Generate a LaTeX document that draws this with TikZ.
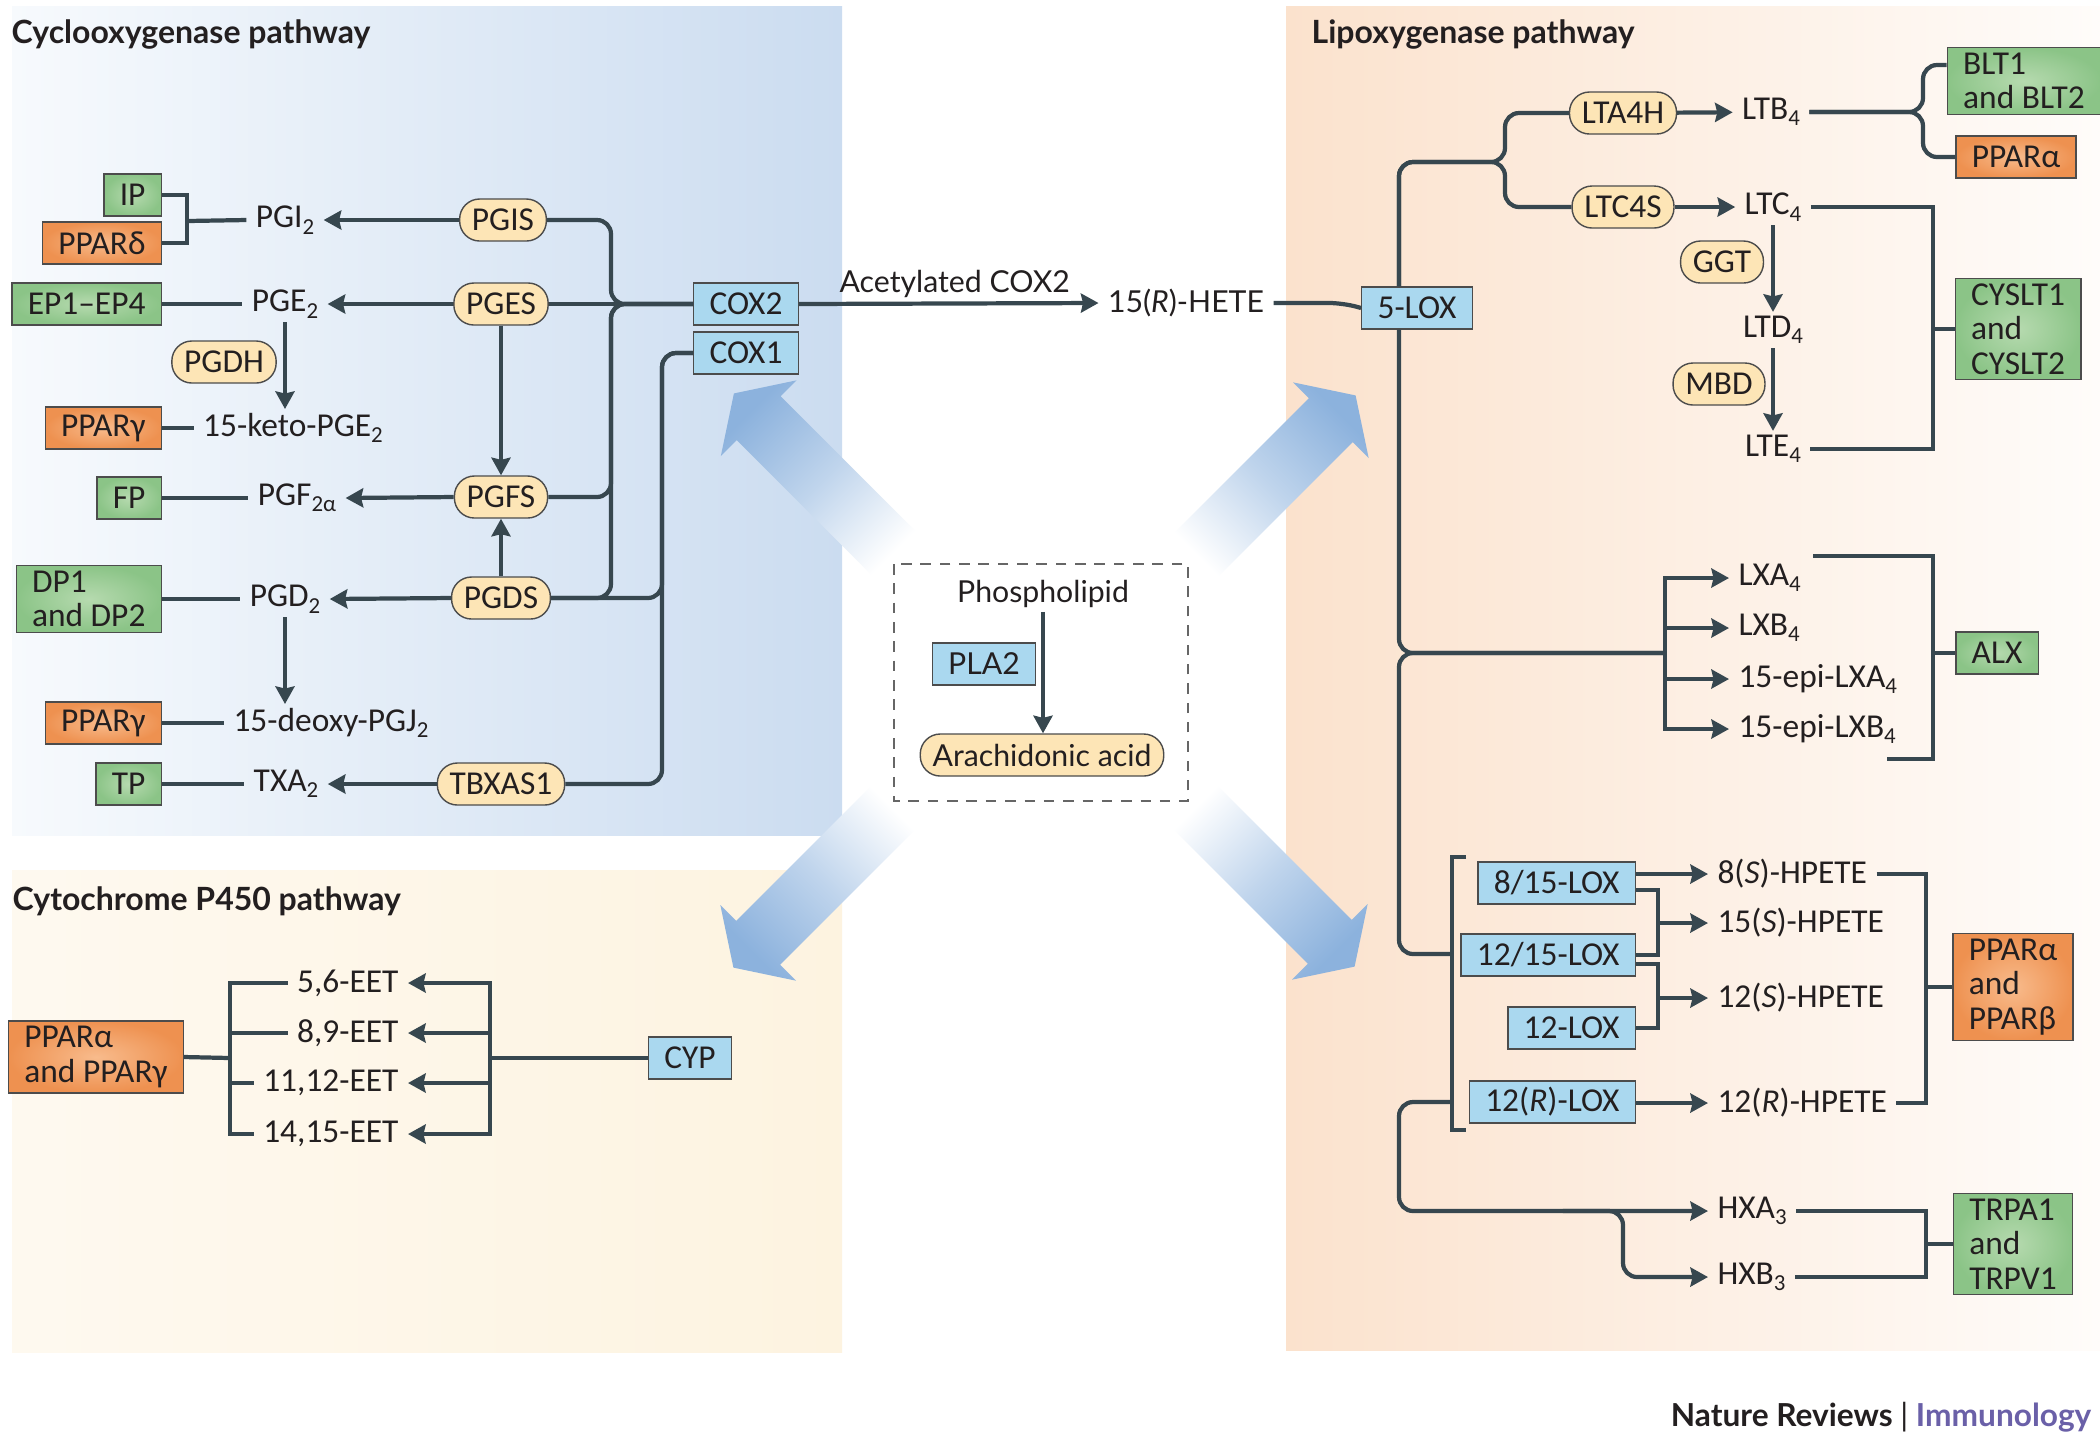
\documentclass[tikz,border=0pt]{standalone}
\usepackage{fontspec}
\setmainfont{Carlito}
\newfontfamily\midfont{Lato}
\usetikzlibrary{arrows.meta,positioning}

\definecolor{linecol}{HTML}{37474F}
\definecolor{txtcol}{HTML}{231F20}
\definecolor{grnin}{HTML}{B6DAAF}
\definecolor{grnout}{HTML}{8BC487}
\definecolor{orgin}{HTML}{F8BB8C}
\definecolor{orgout}{HTML}{EE9150}
\definecolor{bluebox}{HTML}{AAD8EF}
\definecolor{pillcol}{HTML}{FDE5B6}
\definecolor{arrblue}{HTML}{8CB2DD}
\definecolor{coxpanel}{HTML}{CBDCF0}
\definecolor{coxpanelL}{HTML}{F7FAFD}
\definecolor{cyppanel}{HTML}{FDF3E0}
\definecolor{loxpanel}{HTML}{FBE2CD}
\definecolor{immcol}{HTML}{6A60A8}

% lowered subscript as in the figure
\newcommand{\sbs}[1]{\raisebox{-0.4ex}{\fontsize{6.5}{7}\selectfont#1}}

\begin{document}
\begin{tikzpicture}[x=0.01cm, y=-0.01cm,
  font=\fontsize{9.5}{9.8}\selectfont, text=txtcol,
  box/.style={draw=black!70, line width=0.4pt, minimum height=0.42cm, inner xsep=4.5pt, inner ysep=1.5pt, align=left},
  rec/.style={box, inner color=grnin, outer color=grnout},
  ppar/.style={box, inner color=orgin, outer color=orgout},
  enz/.style={box, fill=bluebox},
  pill/.style={box, fill=pillcol, rounded corners=0.2cm, inner xsep=3.5pt},
  lip/.style={inner xsep=2.5pt, inner ysep=1pt},
  mid/.style={font=\midfont\fontsize{8.6}{10}\selectfont},
  conn/.style={draw=linecol, line width=1.2pt},
  arr/.style={conn, -{Stealth[length=5pt,width=5.4pt,inset=0.6pt]}},
  bigarr/.style={top color=arrblue, bottom color=white, middle color=arrblue!55!white},
  ttl/.style={font=\midfont\fontsize{9.1}{10}\selectfont\bfseries, anchor=base west, inner sep=0pt}
]
\useasboundingbox (0,0) rectangle (2100,1441);
\fill[white] (0,0) rectangle (2100,1441);

% Pathway panels
\shade[left color=coxpanelL, right color=coxpanel] (12,6) rectangle (842,835);
\shade[left color=cyppanel!50!white, right color=cyppanel] (12,870) rectangle (842,1352);
\shade[left color=loxpanel, right color=loxpanel!10!white] (1286,6) rectangle (2100,1350);

% Big arrows out of the arachidonic acid box
\foreach \tx/\ty/\ang/\sh in {901.5/561/135/45, 1188/563/45/-45, 901/800/225/135, 1187/799/315/225}
  \shade[bigarr, shading angle=\sh, shift={(\tx,\ty)}, rotate=\ang]
    (0,31) -- (202,31) -- (202,53.5) -- (237,0) -- (202,-53.5) -- (202,-31) -- (0,-31) -- cycle;

% ---------------- Cyclooxygenase pathway ----------------
\node[ttl] (coxttl) at (11,43) {Cyclooxygenase pathway};
\node[enz, minimum width=1.02cm] (cox2) at (746,304) {COX2};
\node[enz, minimum width=1.02cm] (cox1) at (746,353) {COX1};

% Synthases
\node[pill] (pgis) at (503,220) {PGIS};
\node[pill] (pges) at (501,304) {PGES};
\node[pill] (pgfs) at (501,497) {PGFS};
\node[pill] (pgds) at (501,598) {PGDS};
\node[pill] (tbxas) at (501,784) {TBXAS1};
\node[pill] (pgdh) at (224,362) {PGDH};

% Prostanoids
\node[lip] (pgi2) at (285,220) {PGI\sbs{2}};
\node[lip] (pge2) at (285,304) {PGE\sbs{2}};
\node[lip] (keto) at (293,428) {15-keto-PGE\sbs{2}};
\node[lip] (pgf) at (297,498) {PGF\sbs{2α}};
\node[lip] (pgd2) at (285,599) {PGD\sbs{2}};
\node[lip] (deoxy) at (331,723) {15-deoxy-PGJ\sbs{2}};
\node[lip] (txa2) at (286,784) {TXA\sbs{2}};

% Receptors
\node[rec, anchor=east] (ip) at (162,195) {IP};
\node[ppar, anchor=east] (ppd) at (162,243) {PPARδ};
\node[rec, anchor=east] (ep) at (162,304) {EP1–EP4};
\node[ppar, anchor=east] (ppg1) at (162,428) {PPARγ};
\node[rec, anchor=east] (fp) at (162,498) {FP};
\node[rec, anchor=east] (dp) at (162,599) {DP1\\and DP2};
\node[ppar, anchor=east] (ppg2) at (162,723) {PPARγ};
\node[rec, anchor=east] (tp) at (162,784) {TP};

% Receptor links
\coordinate (ipj) at (187,221);
\draw[conn] (ip.east) -| (ipj) |- (ppd.east);
\draw[conn] (ipj) -- (pgi2.west);
\foreach \r/\p in {ep/pge2, ppg1/keto, fp/pgf, dp/pgd2, ppg2/deoxy, tp/txa2}
  \draw[conn] (\r.east) -- (\p.west);

% Synthase products
\foreach \e/\p in {pgis/pgi2, pges/pge2, pgfs/pgf, pgds/pgd2, tbxas/txa2}
  \draw[arr] (\e.west) -- (\p.east);
\draw[arr] (pge2.south) -- (pge2.south |- keto.north);
\draw[arr] (pgd2.south) -- (pgd2.south |- deoxy.north);
\draw[arr] (pges) -- (pgfs);
\draw[arr] (pgds) -- (pgfs);

% COX2 and COX1 buses
\coordinate (c2bus) at (611,304);
\coordinate (c1bus) at (662,353);
\draw[conn] (pges.east) -- (cox2.west);
\foreach \e in {pgis, pgfs, pgds}
  \draw[conn, rounded corners=4pt] (\e.east) -| (c2bus) -- (cox2.west);
\draw[conn, rounded corners=4pt] (cox1.west) -| (c1bus |- tbxas.east) -- (tbxas.east);
\draw[conn, rounded corners=4pt] (cox1.west) -| (c1bus |- pgds.east) -- (pgds.east);

% ---------------- Centre ----------------
\node[lip, mid] (hete) at (1186,303) {15(\textit{R})-HETE};
\draw[arr] (cox2.east) -- node[above, pos=0.52, mid, inner sep=1pt] {Acetylated COX2} (hete.west);

\draw[draw=black!60, line width=0.5pt, dash pattern=on 3pt off 2.5pt] (894,564) rectangle (1188,801);
\node[lip, mid] (phos) at (1043,594) {Phospholipid};
\node[enz, mid] (pla2) at (984,664) {PLA2};
\node[pill, mid] (aa) at (1042,755) {Arachidonic acid};
\draw[arr] (phos.south) -- (phos.south |- aa.north);

% ---------------- Cytochrome P450 pathway ----------------
\node[ttl] (cypttl) at (12,910) {Cytochrome P450 pathway};
\node[enz] (cyp) at (690,1058) {CYP};
\node[ppar] (ppag) at (96,1057) {PPARα\\and PPARγ};
\node[lip, anchor=east] (eet56) at (408,983) {5,6-EET};
\node[lip, anchor=east] (eet89) at (408,1033) {8,9-EET};
\node[lip, anchor=east] (eet1112) at (408,1083) {11,12-EET};
\node[lip, anchor=east] (eet1415) at (408,1134) {14,15-EET};

\coordinate (cypbus) at (490,1058);
\coordinate (eetbus) at (230,1058);
\draw[conn] (cyp.west) -- (cypbus);
\draw[conn] (ppag.east) -- (eetbus);
\draw[arr] (cypbus) |- (eet56.east);
\draw[arr] (cypbus) |- (eet1415.east);
\draw[conn] (eet56.west) -| (eetbus) |- (eet1415.west);
\foreach \n in {eet89, eet1112}{
  \draw[arr] (cypbus |- \n.east) -- (\n.east);
  \draw[conn] (eetbus |- \n.west) -- (\n.west);
}

% ---------------- Lipoxygenase pathway ----------------
\node[ttl] (loxttl) at (1311,43) {Lipoxygenase pathway};
\node[enz] (lox5) at (1417,308) {5-LOX};
\draw[conn, rounded corners=4pt] (hete.east) -- ++(70,0) -- (lox5.west);

% Leukotrienes
\node[pill] (lta4h) at (1623,113) {LTA4H};
\node[pill] (ltc4s) at (1623,207) {LTC4S};
\node[lip] (ltb4) at (1771,112) {LTB\sbs{4}};
\node[lip] (ltc4) at (1773,207) {LTC\sbs{4}};
\node[lip] (ltd4) at (1773,330) {LTD\sbs{4}};
\node[lip] (lte4) at (1773,449) {LTE\sbs{4}};
\node[pill] (ggt) at (1722,262) {GGT};
\node[pill] (mbd) at (1719,384) {MBD};
\node[rec] (blt) at (2024,81) {BLT1\\and BLT2};
\node[ppar] (ppa1) at (2016,157) {PPARα};
\node[rec] (cyslt) at (2018,329) {CYSLT1\\and\\CYSLT2};

\coordinate (lxup) at ([xshift=-0.18cm]lox5.north);
\coordinate (ltbr) at (1505,162);
\draw[conn, rounded corners=4pt] (lxup) |- (ltbr) |- (lta4h.west);
\draw[conn, rounded corners=4pt] (lxup) |- (ltbr) |- (ltc4s.west);
\draw[arr] (lta4h) -- (ltb4);
\draw[arr] (ltc4s) -- (ltc4);
\draw[arr] (ltc4.south) -- (ltc4.south |- ltd4.north);
\draw[arr] (ltd4.south) -- (ltd4.south |- lte4.north);

\coordinate (bltj) at (1923,112);
\draw[conn, rounded corners=4pt] (ltb4.east) -- (bltj) |- ([yshift=0.16cm]blt.west);
\draw[conn, rounded corners=4pt] (ltb4.east) -- (bltj) |- (ppa1.west);
\coordinate (cysj) at (1933,329);
\draw[conn] (ltc4.east) -| (cysj) |- (lte4.east);
\draw[conn] (cysj) -- (cyslt.west);

% Lipoxins
\node[lip, anchor=west] (lxa4) at (1729,578) {LXA\sbs{4}};
\node[lip, anchor=west] (lxb4) at (1729,628) {LXB\sbs{4}};
\node[lip, anchor=west] (elxa4) at (1729,679) {15-epi-LXA\sbs{4}};
\node[lip, anchor=west] (elxb4) at (1729,729) {15-epi-LXB\sbs{4}};
\node[rec] (alx) at (1997,653) {ALX};

\coordinate (lxdn) at ([xshift=-0.18cm]lox5.south);
\coordinate (lxbus) at (1665,653);
\draw[conn, rounded corners=4pt] (lxdn) |- (lxbus);
\draw[arr] (lxbus) |- (lxa4.west);
\draw[arr] (lxbus) |- (elxb4.west);
\foreach \n in {lxb4, elxa4}
  \draw[arr] (lxbus |- \n.west) -- (\n.west);
\coordinate (alxtop) at (1813,556);
\coordinate (alxbot) at (1887,759);
\coordinate (alxj) at (1933,653);
\draw[conn] (alxtop) -| (alxj) |- (alxbot);
\draw[conn] (alxj) -- (alx.west);

% LOX enzymes and HPETEs
\node[enz, anchor=east] (lox815) at (1636,883) {8/15-LOX};
\node[enz, anchor=east] (lox1215) at (1636,955) {12/15-LOX};
\node[enz, anchor=east] (lox12) at (1636,1028) {12-LOX};
\node[enz, anchor=east] (lox12r) at (1636,1102) {12(\textit{R})-LOX};
\node[lip, anchor=west] (hp8) at (1708,874) {8(\textit{S})-HPETE};
\node[lip, anchor=west] (hp15) at (1708,923) {15(\textit{S})-HPETE};
\node[lip, anchor=west] (hp12s) at (1708,998) {12(\textit{S})-HPETE};
\node[lip, anchor=west] (hp12r) at (1708,1103) {12(\textit{R})-HPETE};
\node[ppar] (ppab) at (2013,987) {PPARα\\and\\PPARβ};

\coordinate (loxbr) at (1452,954);
\coordinate (brt) at (1466,857);
\coordinate (brb) at (1466,1130);
\draw[conn, rounded corners=4pt] (lxbus) -| (lxdn |- loxbr) -- (loxbr);
\draw[conn] (brt) -| (loxbr) |- (brb);

\draw[arr] (lox815.east |- hp8.west) -- (hp8.west);
\coordinate (b15) at (1658,923);
\draw[conn] ([yshift=-0.07cm]lox815.east) -| (b15) |- (lox1215.east);
\draw[arr] (b15) -- (hp15.west);
\coordinate (b12) at (1658,998);
\draw[conn] ([yshift=-0.09cm]lox1215.east) -| (b12) |- (lox12.east);
\draw[arr] (b12) -- (hp12s.west);
\draw[arr] (lox12r.east |- hp12r.west) -- (hp12r.west);

\coordinate (ppabj) at (1926,987);
\draw[conn] (hp8.east) -| (ppabj) |- (hp12r.east);
\draw[conn] (ppabj) -- (ppab.west);

% Hepoxilins
\node[lip, anchor=west] (hxa3) at (1708,1211) {HXA\sbs{3}};
\node[lip, anchor=west] (hxb3) at (1708,1277) {HXB\sbs{3}};
\node[rec] (trp) at (2013,1244) {TRPA1\\and\\TRPV1};

\coordinate (hxbr) at (1452,1102);
\coordinate (hxsplit) at (1623,1211);
\draw[arr, rounded corners=4pt] (hxbr) -| (lxdn |- hxa3.west) -- (hxa3.west);
\draw[arr, rounded corners=4pt] ([xshift=-0.6cm]hxsplit) -| (hxsplit |- hxb3.west) -- (hxb3.west);
\coordinate (trpj) at (1926,1244);
\draw[conn] (hxa3.east) -| (trpj) |- (hxb3.east);
\draw[conn] (trpj) -- (trp.west);

% Journal credit
\node[anchor=base east, inner sep=0pt, font=\midfont\fontsize{9}{11}\selectfont\bfseries] (credit) at (2092,1426)
  {Nature Reviews {\mdseries|} \textcolor{immcol}{Immunology}};
\end{tikzpicture}
\end{document}
